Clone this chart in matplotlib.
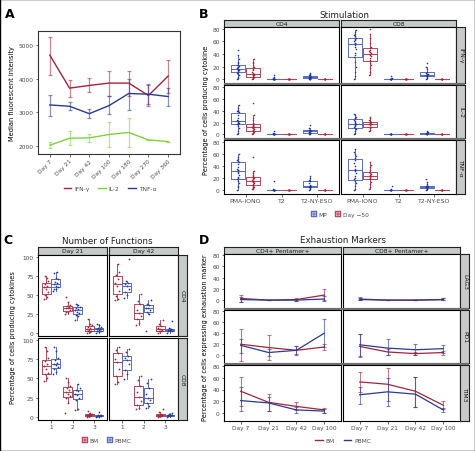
import numpy as np
import matplotlib
matplotlib.use('Agg')
import matplotlib.pyplot as plt
from matplotlib.lines import Line2D
from matplotlib.patches import Rectangle

# ---------------- DATA ----------------
# Panel A
a_days = ["Day 7", "Day 21", "Day 42", "Day 100", "Day 180", "Day 270", "Day 360"]
a_ifn = [4700, 3720, 3800, 3870, 3870, 3500, 4080]
a_ifn_lo = [4100, 3450, 3600, 3500, 3500, 3200, 3580]
a_ifn_hi = [5250, 3950, 4030, 4220, 4220, 3850, 4560]
a_tnf = [3220, 3180, 2960, 3200, 3560, 3540, 3470]
a_tnf_lo = [2900, 3070, 2820, 2950, 3080, 3250, 3200]
a_tnf_hi = [3530, 3300, 3110, 3500, 4000, 3800, 3730]
a_il2 = [2020, 2230, 2240, 2340, 2400, 2180, 2130]
a_il2_lo = [1930, 2030, 2120, 1980, 1980, 2180, 2130]
a_il2_hi = [2120, 2430, 2350, 2710, 2820, 2180, 2130]

# Panel B  (each list: [PMA-IONO, T2, T2-NY-ESO])
b_stims = ["PMA-IONO", "T2", "T2-NY-ESO"]
b_cols = ["CD4", "CD8"]
b_rows = ["IFN-γ", "IL-2", "TNF-α"]
b_groups = ["MP", "Day −50"]
b_cd4_ifn_mp = [[0, 2, 4, 6, 8, 10, 12, 13, 14, 15, 16, 17, 17, 18, 19, 20, 21, 22, 23, 25, 28, 32, 38, 46],
                [0, 0, 0, 0, 0, 0, 0, 0, 1, 1, 2, 3, 6],
                [0, 0, 1, 1, 2, 2, 3, 3, 3, 4, 4, 5, 6, 7, 8, 10]]
b_cd4_ifn_d50 = [[1, 2, 2, 3, 4, 4, 5, 6, 7, 8, 8, 9, 10, 12, 14, 16, 19, 20, 22, 25, 28, 32],
                 [0, 0, 0, 0, 0, 0, 0, 0],
                 [0, 0, 0, 0, 0, 0, 0, 0]]
b_cd4_il2_mp = [[0, 3, 6, 10, 14, 17, 18, 19, 20, 21, 22, 22, 23, 25, 28, 32, 38, 39, 40, 41, 45, 50],
                [0, 0, 0, 0, 0, 0, 0, 0, 1, 1, 2, 5],
                [0, 1, 2, 3, 3, 4, 5, 5, 5, 6, 7, 7, 8, 10, 15]]
b_cd4_il2_d50 = [[1, 2, 3, 4, 5, 6, 7, 8, 9, 10, 11, 12, 12, 13, 14, 15, 17, 18, 20, 24, 28, 33, 52],
                 [0, 0, 0, 0, 0, 0, 0, 0],
                 [0, 0, 0, 0, 0, 0, 0, 0]]
b_cd4_tnf_mp = [[0, 5, 8, 12, 16, 19, 20, 22, 26, 29, 31, 33, 34, 36, 38, 44, 47, 49, 50, 52, 55, 60],
                [0, 0, 0, 0, 0, 0, 0, 0, 1, 1, 3, 15],
                [0, 2, 4, 5, 5, 6, 7, 8, 8, 9, 12, 15, 16, 17, 20, 24]]
b_cd4_tnf_d50 = [[2, 3, 4, 5, 6, 8, 9, 10, 12, 13, 14, 15, 16, 17, 18, 20, 21, 22, 24, 26, 28, 32, 55],
                 [0, 0, 0, 0, 0, 0, 0, 0],
                 [0, 0, 0, 0, 0, 0, 0, 0]]
b_cd8_ifn_mp = [[0, 5, 12, 20, 28, 35, 38, 42, 48, 52, 55, 57, 58, 60, 62, 64, 65, 68, 70, 72, 75, 78],
                [0, 0, 0, 0, 0, 0, 0, 1, 2, 5],
                [0, 2, 4, 5, 5, 6, 7, 7, 8, 9, 10, 12, 16, 20, 25]]
b_cd8_ifn_d50 = [[6, 12, 18, 22, 26, 29, 31, 34, 37, 39, 40, 41, 43, 45, 47, 49, 52, 58, 65, 72, 80],
                 [0, 0, 0, 0, 0, 0, 0, 0],
                 [0, 0, 0, 0, 0, 0, 0, 0]]
b_cd8_il2_mp = [[0, 3, 6, 9, 11, 12, 14, 16, 18, 18, 19, 21, 23, 25, 27, 28, 30, 32, 35],
                [0, 0, 0, 0, 0, 0, 1, 1],
                [0, 0, 1, 1, 2, 2, 3, 3, 4, 6]]
b_cd8_il2_d50 = [[5, 8, 10, 12, 13, 15, 17, 18, 18, 19, 20, 21, 22, 24, 27, 30],
                 [0, 0, 0, 0, 0, 0, 0, 0],
                 [0, 0, 0, 0, 0, 0, 0, 0]]
b_cd8_tnf_mp = [[0, 3, 8, 12, 16, 18, 20, 24, 28, 32, 34, 36, 40, 45, 50, 54, 56, 60, 64, 68],
                [0, 0, 0, 0, 0, 0, 1, 2, 8],
                [0, 2, 3, 4, 4, 5, 6, 6, 7, 8, 8, 10, 14, 18]]
b_cd8_tnf_d50 = [[2, 6, 10, 14, 18, 19, 20, 22, 24, 24, 25, 27, 29, 31, 33, 38, 42, 46],
                 [0, 0, 0, 0, 0, 0, 0, 0],
                 [0, 0, 0, 0, 0, 0, 0, 0]]

# Panel C  (each list: [1 function, 2 functions, 3 functions])
c_cols = ["Day 21", "Day 42"]
c_rows = ["CD4", "CD8"]
c_groups = ["BM", "PBMC"]
c_d21_cd4_bm = [[45, 47, 50, 53, 58, 60, 62, 64, 68, 72, 75],
                [25, 27, 28, 30, 32, 33, 34, 35, 36, 40, 47],
                [0, 1, 2, 3, 4, 5, 6, 8, 10, 12, 18]]
c_d21_cd4_pb = [[55, 57, 58, 60, 62, 64, 65, 67, 70, 72, 78, 80],
                [17, 22, 24, 26, 28, 30, 31, 33, 34, 36, 38],
                [0, 1, 2, 3, 4, 5, 5, 6, 8, 10, 12]]
c_d42_cd4_bm = [[43, 45, 49, 55, 62, 65, 70, 76, 80, 90],
                [10, 13, 18, 22, 26, 30, 38, 42, 51],
                [0, 2, 3, 4, 5, 6, 9, 12, 17]]
c_d42_cd4_pb = [[46, 50, 53, 58, 62, 64, 66, 68, 97],
                [3, 25, 27, 30, 32, 33, 36, 38, 43],
                [0, 2, 3, 3, 4, 4, 5, 6, 15]]
c_d21_cd8_bm = [[46, 50, 55, 57, 62, 66, 68, 72, 76, 85, 90],
                [5, 18, 24, 27, 30, 32, 35, 38, 40, 45, 50],
                [0, 1, 1, 2, 2, 2, 3, 3, 4, 5, 8]]
c_d21_cd8_pb = [[55, 58, 62, 64, 67, 68, 70, 74, 76, 85, 90],
                [9, 10, 22, 25, 28, 30, 33, 35, 38, 42],
                [0, 0, 1, 1, 1, 1, 2, 2, 3, 6]]
c_d42_cd8_bm = [[42, 45, 53, 62, 71, 75, 82, 86, 90],
                [10, 12, 16, 20, 26, 32, 40, 48, 53],
                [0, 1, 1, 2, 2, 3, 4, 6, 10]]
c_d42_cd8_pb = [[49, 55, 60, 68, 73, 76, 79, 84, 88],
                [12, 14, 18, 22, 24, 30, 37, 44, 49],
                [0, 1, 1, 2, 2, 2, 3, 4, 5]]

# Panel D
d_days = ["Day 7", "Day 21", "Day 42", "Day 100"]
d_cols = ["CD4+ Pentamer+", "CD8+ Pentamer+"]
d_rows = ["LAG3", "PD1", "TIM3"]
d_groups = ["BM", "PBMC"]
# CD4+ Pentamer+
d_cd4_lag3_bm = [3, 0, 1, 9];    d_cd4_lag3_bm_lo = [-3, 0, -2, 1];   d_cd4_lag3_bm_hi = [10, 0, 4, 19]
d_cd4_lag3_pb = [1, 0, 0, 2];    d_cd4_lag3_pb_lo = [-3, 0, -2, -2];  d_cd4_lag3_pb_hi = [5, 0, 2, 7]
d_cd4_pd1_bm = [20, 14, 9, 15];  d_cd4_pd1_bm_lo = [-10, -8, 3, 10];  d_cd4_pd1_bm_hi = [48, 37, 16, 21]
d_cd4_pd1_pb = [18, 5, 9, 40];   d_cd4_pd1_pb_lo = [5, -1, 0, 15];    d_cd4_pd1_pb_hi = [30, 11, 17, 65]
d_cd4_tim3_bm = [37, 18, 11, 5]; d_cd4_tim3_bm_lo = [12, 3, 5, 0];    d_cd4_tim3_bm_hi = [61, 33, 18, 9]
d_cd4_tim3_pb = [21, 17, 5, 3];  d_cd4_tim3_pb_lo = [3, 3, 0, 0];     d_cd4_tim3_pb_hi = [44, 28, 10, 7]
# CD8+ Pentamer+
d_cd8_lag3_bm = [2, 0, 0, 1];    d_cd8_lag3_bm_lo = [0, 0, 0, 0];     d_cd8_lag3_bm_hi = [5, 0, 0, 3]
d_cd8_lag3_pb = [1, 0, 0, 1];    d_cd8_lag3_pb_lo = [0, 0, 0, 0];     d_cd8_lag3_pb_hi = [4, 0, 0, 3]
d_cd8_pd1_bm = [16, 6, 3, 5];    d_cd8_pd1_bm_lo = [-4, 0, 0, 0];     d_cd8_pd1_bm_hi = [38, 12, 6, 8]
d_cd8_pd1_pb = [19, 13, 10, 12]; d_cd8_pd1_pb_lo = [-2, 0, 1, 5];     d_cd8_pd1_pb_hi = [39, 30, 20, 19]
d_cd8_tim3_bm = [53, 49, 37, 13]; d_cd8_tim3_bm_lo = [35, 21, 10, 7]; d_cd8_tim3_bm_hi = [70, 77, 62, 20]
d_cd8_tim3_pb = [31, 36, 32, 5];  d_cd8_tim3_pb_lo = [15, 11, 10, 1]; d_cd8_tim3_pb_hi = [45, 60, 62, 9]

# ---------------- STYLE ----------------
RED = '#a3243b'
BLUE = '#2b3a92'
GREEN = '#80d23c'
BOX_BLUE = '#5a6cc4'
PT_BLUE = '#22389a'
BOX_RED = '#b8475b'
PT_RED = '#a3243b'
STRIP = '#c6cac9'
TXT = '#4d4d4d'
TICK = 4.2
STXT = 4.3
LAB = 4.8
TITLE = 6.3

W, H = 475, 452
fig = plt.figure(figsize=(W / 100, H / 100), dpi=100)
fig.patch.set_facecolor('white')


def axpx(l, t, r, b):
    return fig.add_axes([l / W, 1 - b / H, (r - l) / W, (b - t) / H])


def ftext(x, y, s, **kw):
    fig.text(x / W, 1 - y / H, s, **kw)


def frect(l, t, r, b, color):
    fig.patches.append(Rectangle((l / W, 1 - b / H), (r - l) / W, (b - t) / H,
                                 transform=fig.transFigure, facecolor=color,
                                 edgecolor='none', zorder=0))


def style_ax(ax, lw=0.8, col='black'):
    for s in ax.spines.values():
        s.set_linewidth(lw)
        s.set_color(col)
    ax.tick_params(axis='both', labelsize=TICK, colors='#333333', length=1.8,
                   width=0.5, pad=1.2, labelcolor=TXT)


def strip_top(l, t, r, b, s):
    ax = axpx(l, t, r, b)
    ax.set_facecolor(STRIP)
    ax.set_xticks([]); ax.set_yticks([])
    for sp in ax.spines.values():
        sp.set_linewidth(0.8); sp.set_color('#222222')
    ax.text(0.5, 0.5, s, ha='center', va='center', fontsize=STXT, color='#1a1a1a',
            transform=ax.transAxes)


def strip_right(l, t, r, b, s):
    ax = axpx(l, t, r, b)
    ax.set_facecolor(STRIP)
    ax.set_xticks([]); ax.set_yticks([])
    for sp in ax.spines.values():
        sp.set_linewidth(0.8); sp.set_color('#222222')
    ax.text(0.5, 0.5, s, ha='center', va='center', fontsize=STXT, color='#1a1a1a',
            rotation=-90, transform=ax.transAxes)


def jitter(n, w):
    return ((np.arange(n) * 0.618) % 1.0 - 0.5) * 2 * w


def draw_box(ax, data, pos, width, boxc, ptc, jw, ps):
    d = np.asarray(data, dtype=float)
    ax.boxplot([d], positions=[pos], widths=width, showcaps=False, showfliers=False,
               boxprops=dict(color=boxc, lw=0.7), whiskerprops=dict(color=boxc, lw=0.7),
               medianprops=dict(color=boxc, lw=0.8), manage_ticks=False)
    ax.scatter(pos + jitter(len(d), jw), d, s=ps, color=ptc, zorder=3, lw=0)


# ---------------- PANEL A ----------------
axA = axpx(38, 32, 180, 155)
xa = np.arange(len(a_days))
for v, lo, hi, c in [(a_ifn, a_ifn_lo, a_ifn_hi, RED), (a_il2, a_il2_lo, a_il2_hi, GREEN),
                     (a_tnf, a_tnf_lo, a_tnf_hi, BLUE)]:
    v = np.array(v); lo = np.array(lo); hi = np.array(hi)
    axA.errorbar(xa, v, yerr=[v - lo, hi - v], fmt='none', ecolor=c, alpha=0.55,
                 elinewidth=0.9, capsize=1.5, capthick=0.9)
    axA.plot(xa, v, color=c, lw=1.0)
axA.set_xlim(-0.6, 6.6)
axA.set_ylim(1760, 5420)
axA.set_yticks([2000, 3000, 4000, 5000])
axA.set_xticks(xa)
axA.set_xticklabels(a_days, rotation=45, ha='right', rotation_mode='anchor')
style_ax(axA, lw=0.8, col='#333333')
axA.set_ylabel('Median fluorescent intensity', fontsize=LAB, labelpad=3)
hA = [Line2D([0], [0], color=RED, lw=1), Line2D([0], [0], color=GREEN, lw=1),
      Line2D([0], [0], color=BLUE, lw=1)]
fig.legend(hA, ['IFN-γ', 'IL-2', 'TNF-α'], loc='center', bbox_to_anchor=(110 / W, 1 - 189 / H),
           ncol=3, frameon=False, fontsize=TICK, handlelength=1.3, columnspacing=1.5,
           handletextpad=0.5, labelcolor=TXT)

# ---------------- PANEL B ----------------
b_data = {('CD4', 0): (b_cd4_ifn_mp, b_cd4_ifn_d50), ('CD4', 1): (b_cd4_il2_mp, b_cd4_il2_d50),
          ('CD4', 2): (b_cd4_tnf_mp, b_cd4_tnf_d50), ('CD8', 0): (b_cd8_ifn_mp, b_cd8_ifn_d50),
          ('CD8', 1): (b_cd8_il2_mp, b_cd8_il2_d50), ('CD8', 2): (b_cd8_tnf_mp, b_cd8_tnf_d50)}
b_colx = [(224, 339), (341, 456)]
b_rowy = [(28, 84), (86, 139), (141, 195)]
for ci, cname in enumerate(b_cols):
    l, r = b_colx[ci]
    strip_top(l, 21, r, 28, cname)
    for ri in range(3):
        t, b = b_rowy[ri]
        ax = axpx(l, t, r, b)
        mp, d50 = b_data[(cname, ri)]
        for si in range(3):
            draw_box(ax, mp[si], si + 1 - 0.21, 0.40, BOX_BLUE, PT_BLUE, 0.02, 1.3)
            draw_box(ax, d50[si], si + 1 + 0.21, 0.40, BOX_RED, PT_RED, 0.02, 1.3)
        ax.set_xlim(0.4, 3.6)
        ax.set_ylim(-6, 83)
        ax.set_yticks([0, 20, 40, 60, 80])
        ax.set_xticks([1, 2, 3])
        style_ax(ax)
        if ri < 2:
            ax.set_xticklabels([])
            ax.tick_params(axis='x', length=0)
        else:
            ax.set_xticklabels(b_stims, fontsize=TICK + 0.2)
        if ci > 0:
            ax.set_yticklabels([])
            ax.tick_params(axis='y', length=0)
        if ci == 1:
            strip_right(456, t, 465, b, b_rows[ri])
for yy in [(84, 86), (139, 141)]:
    frect(224, yy[0], 465, yy[1], '#6e6e6e')
ftext(206, 110, 'Percentage of cells producing cytokine', fontsize=LAB, rotation=90,
      ha='center', va='center')
ftext(344, 15, 'Stimulation', fontsize=TITLE, ha='center', va='center', color='#222222')
hB = [Line2D([0], [0], marker='$\\boxplus$', color='none', markeredgecolor=BOX_BLUE,
             markerfacecolor=BOX_BLUE, markersize=4.5, markeredgewidth=0.3),
      Line2D([0], [0], marker='$\\boxplus$', color='none', markeredgecolor=BOX_RED,
             markerfacecolor=BOX_RED, markersize=4.5, markeredgewidth=0.3)]
fig.legend(hB, b_groups, loc='center', bbox_to_anchor=(340 / W, 1 - 215 / H), ncol=2,
           frameon=False, fontsize=TICK, handlelength=0.8, columnspacing=1.5,
           handletextpad=0.4, labelcolor=TXT)

# ---------------- PANEL C ----------------
c_data = {(0, 0): (c_d21_cd4_bm, c_d21_cd4_pb), (1, 0): (c_d42_cd4_bm, c_d42_cd4_pb),
          (0, 1): (c_d21_cd8_bm, c_d21_cd8_pb), (1, 1): (c_d42_cd8_bm, c_d42_cd8_pb)}
c_colx = [(38, 107), (109, 178)]
c_rowy = [(256, 337), (339, 421)]
for ci in range(2):
    l, r = c_colx[ci]
    strip_top(l, 248, r, 256, c_cols[ci])
    for ri in range(2):
        t, b = c_rowy[ri]
        ax = axpx(l, t, r, b)
        bm, pb = c_data[(ci, ri)]
        for k in range(3):
            draw_box(ax, bm[k], k + 1 - 0.22, 0.42, BOX_RED, PT_RED, 0.12, 1.6)
            draw_box(ax, pb[k], k + 1 + 0.22, 0.42, BOX_BLUE, PT_BLUE, 0.12, 1.6)
        ax.set_xlim(0.4, 3.6)
        ax.set_ylim(-4, 102)
        ax.set_yticks([0, 25, 50, 75, 100])
        ax.set_xticks([1, 2, 3])
        style_ax(ax)
        if ri == 0:
            ax.set_xticklabels([])
            ax.tick_params(axis='x', length=0)
        if ci == 1:
            ax.set_yticklabels([])
            ax.tick_params(axis='y', length=0)
            strip_right(178, t, 187, b, c_rows[ri])
ftext(13, 338, 'Percentage of cells producing cytokines', fontsize=LAB, rotation=90,
      ha='center', va='center')
ftext(107, 242, 'Number of Functions', fontsize=TITLE, ha='center', va='center', color='#222222')
hC = [Line2D([0], [0], marker='$\\boxplus$', color='none', markeredgecolor=BOX_RED,
             markerfacecolor=BOX_RED, markersize=4.5, markeredgewidth=0.3),
      Line2D([0], [0], marker='$\\boxplus$', color='none', markeredgecolor=BOX_BLUE,
             markerfacecolor=BOX_BLUE, markersize=4.5, markeredgewidth=0.3)]
fig.legend(hC, c_groups, loc='center', bbox_to_anchor=(107 / W, 1 - 441 / H), ncol=2,
           frameon=False, fontsize=TICK, handlelength=0.8, columnspacing=1.5,
           handletextpad=0.4, labelcolor=TXT)

# ---------------- PANEL D ----------------
d_data = {
    (0, 0): ((d_cd4_lag3_bm, d_cd4_lag3_bm_lo, d_cd4_lag3_bm_hi), (d_cd4_lag3_pb, d_cd4_lag3_pb_lo, d_cd4_lag3_pb_hi)),
    (0, 1): ((d_cd4_pd1_bm, d_cd4_pd1_bm_lo, d_cd4_pd1_bm_hi), (d_cd4_pd1_pb, d_cd4_pd1_pb_lo, d_cd4_pd1_pb_hi)),
    (0, 2): ((d_cd4_tim3_bm, d_cd4_tim3_bm_lo, d_cd4_tim3_bm_hi), (d_cd4_tim3_pb, d_cd4_tim3_pb_lo, d_cd4_tim3_pb_hi)),
    (1, 0): ((d_cd8_lag3_bm, d_cd8_lag3_bm_lo, d_cd8_lag3_bm_hi), (d_cd8_lag3_pb, d_cd8_lag3_pb_lo, d_cd8_lag3_pb_hi)),
    (1, 1): ((d_cd8_pd1_bm, d_cd8_pd1_bm_lo, d_cd8_pd1_bm_hi), (d_cd8_pd1_pb, d_cd8_pd1_pb_lo, d_cd8_pd1_pb_hi)),
    (1, 2): ((d_cd8_tim3_bm, d_cd8_tim3_bm_lo, d_cd8_tim3_bm_hi), (d_cd8_tim3_pb, d_cd8_tim3_pb_lo, d_cd8_tim3_pb_hi)),
}
d_colx = [(224, 341), (343, 460)]
d_rowy = [(255, 309), (311, 364), (366, 422)]
xd = np.arange(len(d_days))
for ci in range(2):
    l, r = d_colx[ci]
    strip_top(l, 248, r, 255, d_cols[ci])
    for ri in range(3):
        t, b = d_rowy[ri]
        ax = axpx(l, t, r, b)
        for (v, lo, hi), c in zip(d_data[(ci, ri)], [RED, BLUE]):
            v = np.array(v, float); lo = np.array(lo, float); hi = np.array(hi, float)
            ax.errorbar(xd, v, yerr=[v - lo, hi - v], fmt='none', ecolor=c, alpha=0.6,
                        elinewidth=0.8, capsize=1.5, capthick=0.8)
            ax.plot(xd, v, color=c, lw=0.9)
        ax.set_xlim(-0.6, 3.6)
        ax.set_ylim(-14, 82)
        ax.set_yticks([0, 20, 40, 60, 80])
        ax.set_xticks(xd)
        style_ax(ax)
        if ri < 2:
            ax.set_xticklabels([])
            ax.tick_params(axis='x', length=0)
        else:
            ax.set_xticklabels(d_days, fontsize=TICK)
        if ci == 1:
            ax.set_yticklabels([])
            ax.tick_params(axis='y', length=0)
            strip_right(460, t, 469, b, d_rows[ri])
for yy in [(309, 311), (364, 366)]:
    frect(224, yy[0], 469, yy[1], '#6e6e6e')
ftext(205, 338, 'Percentage of cells expressing exhaustion marker', fontsize=LAB, rotation=90,
      ha='center', va='center')
ftext(343, 241, 'Exhaustion Markers', fontsize=TITLE, ha='center', va='center', color='#222222')
hD = [Line2D([0], [0], color=RED, lw=1), Line2D([0], [0], color=BLUE, lw=1)]
fig.legend(hD, d_groups, loc='center', bbox_to_anchor=(343 / W, 1 - 441 / H), ncol=2,
           frameon=False, fontsize=TICK, handlelength=1.3, columnspacing=1.5,
           handletextpad=0.5, labelcolor=TXT)

# ---------------- LETTERS & BORDER ----------------
for s, x, y in [('A', 10, 14), ('B', 204, 14), ('C', 8, 240), ('D', 204, 240)]:
    ftext(x, y, s, fontsize=9, fontweight='bold', ha='center', va='center')
fig.patches.append(Rectangle((0.001, 0.001), 0.998, 0.998, transform=fig.transFigure,
                             fill=False, edgecolor='black', lw=1.0))

fig.savefig('out.png', dpi=100)
